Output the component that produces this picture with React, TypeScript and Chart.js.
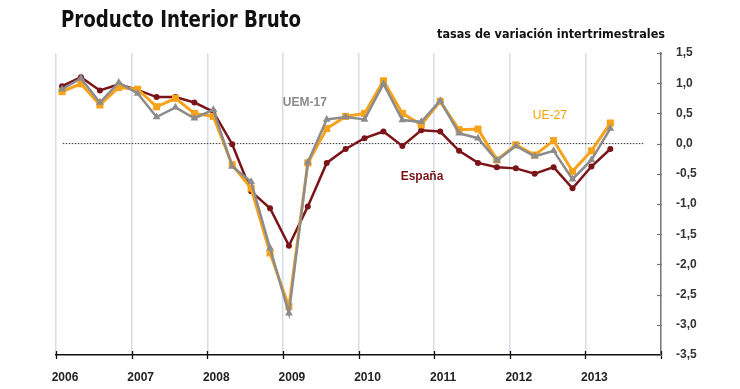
import React, { useEffect, useRef } from 'react';
import { Chart, registerables } from 'chart.js';

Chart.register(...registerables);

// Quarterly periods (año-trimestre)
const quarters = [
  '2006-T1', '2006-T2', '2006-T3', '2006-T4',
  '2007-T1', '2007-T2', '2007-T3', '2007-T4',
  '2008-T1', '2008-T2', '2008-T3', '2008-T4',
  '2009-T1', '2009-T2', '2009-T3', '2009-T4',
  '2010-T1', '2010-T2', '2010-T3', '2010-T4',
  '2011-T1', '2011-T2', '2011-T3', '2011-T4',
  '2012-T1', '2012-T2', '2012-T3', '2012-T4',
  '2013-T1', '2013-T2',
];

const espana = [
  0.95, 1.10, 0.88, 0.98, 0.89, 0.77, 0.77, 0.68,
  0.53, -0.01, -0.79, -1.07, -1.69, -1.04, -0.32, -0.09,
  0.09, 0.20, -0.04, 0.22, 0.20, -0.12, -0.32, -0.39,
  -0.41, -0.50, -0.39, -0.74, -0.38, -0.09,
];

const ue27 = [
  0.86, 0.99, 0.64, 0.93, 0.90, 0.61, 0.75, 0.50,
  0.45, -0.35, -0.74, -1.81, -2.70, -0.32, 0.25, 0.45,
  0.50, 1.04, 0.50, 0.31, 0.70, 0.23, 0.24, -0.27,
  -0.02, -0.19, 0.05, -0.46, -0.12, 0.34,
];

const uem17 = [
  0.90, 1.08, 0.68, 1.01, 0.83, 0.44, 0.60, 0.42,
  0.56, -0.38, -0.63, -1.73, -2.81, -0.31, 0.40, 0.44,
  0.40, 0.99, 0.39, 0.36, 0.71, 0.17, 0.09, -0.28,
  -0.04, -0.21, -0.12, -0.59, -0.27, 0.25,
];

const yearTicks = [2006, 2007, 2008, 2009, 2010, 2011, 2012, 2013, 2014];
const yTicks = [1.5, 1.0, 0.5, 0.0, -0.5, -1.0, -1.5, -2.0, -2.5, -3.0, -3.5];

const titleText = 'Producto Interior Bruto';
const subtitleText = 'tasas de variación intertrimestrales';

const seriesLabels = [
  { text: 'UEM-17', x: 2009.29, y: 0.67, color: '#8a8a8a', weight: '600' },
  { text: 'España', x: 2010.84, y: -0.55, color: '#7a1418', weight: '600' },
  { text: 'UE-27', x: 2012.53, y: 0.46, color: '#f5a000', weight: '500' },
];

const C_ES = '#7a1418';
const C_UE = '#f7a21b';
const C_UEM = '#8c8c8c';

const qToX = (q: string) => {
  const [y, t] = q.split('-T');
  return Number(y) + (Number(t) - 1) / 4 + 0.08;
};

const toPoints = (vals: number[]) => vals.map((v, i) => ({ x: qToX(quarters[i]), y: v }));

const decorPlugin = {
  id: 'decor',
  afterDraw(chart: any) {
    const { ctx, chartArea } = chart;
    const x = chart.scales.x;
    const y = chart.scales.y;
    ctx.save();
    ctx.strokeStyle = '#111';
    ctx.lineWidth = 1.3;
    yearTicks.forEach((v) => {
      const px = Math.round(x.getPixelForValue(v)) + 0.5;
      ctx.beginPath();
      ctx.moveTo(px, chartArea.bottom - 4);
      ctx.lineTo(px, chartArea.bottom + 4);
      ctx.stroke();
    });
    ctx.strokeStyle = '#777';
    ctx.lineWidth = 1.2;
    yTicks.forEach((v) => {
      const py = Math.round(y.getPixelForValue(v)) + 0.5;
      ctx.beginPath();
      ctx.moveTo(chartArea.right - 4, py);
      ctx.lineTo(chartArea.right + 1, py);
      ctx.stroke();
    });
    ctx.textAlign = 'center';
    ctx.textBaseline = 'middle';
    seriesLabels.forEach((l) => {
      ctx.fillStyle = l.color;
      ctx.font = `${l.weight} 12px "Liberation Sans", Arial, sans-serif`;
      ctx.fillText(l.text, x.getPixelForValue(l.x), y.getPixelForValue(l.y));
    });
    ctx.restore();
  },
};

export default function App() {
  const canvasRef = useRef<HTMLCanvasElement | null>(null);
  const titleRef = useRef<HTMLDivElement | null>(null);
  const subRef = useRef<HTMLDivElement | null>(null);

  useEffect(() => {
    const fit = (el: HTMLDivElement | null, target: number) => {
      if (!el) return;
      el.style.transform = 'none';
      const w = el.getBoundingClientRect().width;
      if (w > 0) el.style.transform = `scaleX(${target / w})`;
    };
    fit(titleRef.current, 240);
    fit(subRef.current, 228);

    const canvas = canvasRef.current;
    if (!canvas) return;
    const chart = new Chart(canvas, {
      type: 'line',
      data: {
        datasets: [
          {
            label: 'UEM-17',
            data: toPoints(uem17),
            borderColor: C_UEM,
            backgroundColor: C_UEM,
            borderWidth: 2.5,
            pointStyle: 'triangle',
            pointRadius: 4.5,
            pointBorderWidth: 0,
            order: 0,
          },
          {
            label: 'UE-27',
            data: toPoints(ue27),
            borderColor: C_UE,
            backgroundColor: C_UE,
            borderWidth: 3,
            pointStyle: 'rect',
            pointRadius: 5,
            pointBorderWidth: 0,
            order: 1,
          },
          {
            label: 'España',
            data: toPoints(espana),
            borderColor: C_ES,
            backgroundColor: C_ES,
            borderWidth: 2.5,
            pointStyle: 'circle',
            pointRadius: 3,
            pointBorderWidth: 0,
            order: 2,
          },
          {
            label: 'cero',
            data: [
              { x: 2006.09, y: 0 },
              { x: 2013.78, y: 0 },
            ],
            borderColor: '#333',
            borderWidth: 1,
            borderDash: [1.5, 1.5],
            pointRadius: 0,
            order: 3,
          },
        ],
      },
      options: {
        responsive: false,
        animation: false,
        layout: { padding: { left: 56, top: 53, right: 0, bottom: 0 } },
        plugins: {
          legend: { display: false },
          tooltip: { enabled: false },
        },
        scales: {
          x: {
            type: 'linear',
            min: 2006,
            max: 2014,
            afterFit: (s: any) => {
              s.height = 34;
            },
            afterBuildTicks: (s: any) => {
              s.ticks = yearTicks.map((v) => ({ value: v }));
            },
            grid: {
              color: '#d3deeb',
              lineWidth: 1.5,
              drawTicks: false,
            },
            border: { display: true, color: '#111', width: 1.5 },
            ticks: {
              autoSkip: false,
              maxRotation: 0,
              padding: 15,
              labelOffset: 9,
              color: '#222',
              font: { family: '"Liberation Sans", Arial, sans-serif', size: 12, weight: 'bold' },
              callback: (v: any) => (Number(v) < 2014 ? String(v) : ''),
            },
          },
          y: {
            type: 'linear',
            position: 'right',
            min: -3.5,
            max: 1.5,
            afterFit: (s: any) => {
              s.width = 79;
            },
            afterBuildTicks: (s: any) => {
              s.ticks = yTicks.map((v) => ({ value: v }));
            },
            grid: { display: false, drawTicks: false },
            border: { display: true, color: '#7a7a7a', width: 1.5 },
            ticks: {
              padding: 15,
              color: '#333',
              font: { family: '"Liberation Sans", Arial, sans-serif', size: 12, weight: 'bold' },
              callback: (v: any) => Number(v).toFixed(1).replace('.', ','),
            },
          },
        },
      },
      plugins: [decorPlugin],
    });
    return () => chart.destroy();
  }, []);

  return (
    <div
      style={{
        position: 'absolute',
        left: 0,
        top: 0,
        width: 740,
        height: 389,
        background: '#fff',
        overflow: 'hidden',
      }}
    >
      <canvas ref={canvasRef} width={740} height={389} style={{ display: 'block' }} />
      <div
        ref={titleRef}
        style={{
          position: 'absolute',
          left: 61,
          top: 6,
          fontFamily: '"Liberation Sans Narrow", "DejaVu Sans Condensed", Arial, sans-serif',
          fontWeight: 'bold',
          fontSize: 23,
          lineHeight: '26px',
          color: '#111',
          whiteSpace: 'nowrap',
          transformOrigin: 'left top',
        }}
      >
        {titleText}
      </div>
      <div
        ref={subRef}
        style={{
          position: 'absolute',
          left: 437,
          top: 26,
          fontFamily: '"Liberation Sans Narrow", "DejaVu Sans Condensed", Arial, sans-serif',
          fontWeight: 'bold',
          fontSize: 13,
          lineHeight: '15px',
          color: '#111',
          whiteSpace: 'nowrap',
          transformOrigin: 'left top',
        }}
      >
        {subtitleText}
      </div>
    </div>
  );
}
